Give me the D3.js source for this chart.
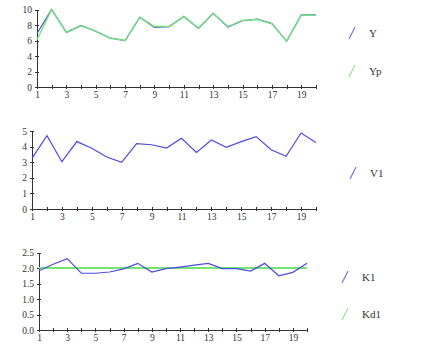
<!DOCTYPE html>
<html>
<head>
<meta charset="utf-8">
<script src="https://cdn.jsdelivr.net/npm/d3@7"></script>
<style>
  body { margin: 0; background: #fff; }
  .axis text { font-family: "Liberation Serif", serif; font-size: 9.5px; fill: #333; }
  .axis path, .axis line { stroke: #333; shape-rendering: crispEdges; }
  .legend text { font-family: "Liberation Serif", serif; font-size: 11px; fill: #333; }
</style>
</head>
<body>
<svg id="chart" width="422" height="353"></svg>
<script>
// x categories
const periods = d3.range(1, 21);

// series values
const Y   = [6.9, 10.0, 7.05, 7.95, 7.2, 6.3, 6.0, 9.0, 7.7, 7.8, 9.1, 7.55, 9.5, 7.75, 8.55, 8.75, 8.2, 5.9, 9.3, 9.3];
const Yp  = [6.1, 10.0, 7.05, 7.9, 7.2, 6.3, 6.0, 9.0, 7.8, 7.8, 9.1, 7.6, 9.5, 7.8, 8.6, 8.7, 8.15, 5.9, 9.3, 9.25];
const V1  = [3.25, 4.7, 3.03, 4.32, 3.89, 3.33, 2.99, 4.19, 4.12, 3.91, 4.53, 3.63, 4.42, 3.95, 4.32, 4.64, 3.8, 3.38, 4.87, 4.27];
const K1  = [1.91, 2.12, 2.30, 1.83, 1.83, 1.87, 1.97, 2.15, 1.87, 1.98, 2.03, 2.09, 2.15, 1.98, 1.98, 1.90, 2.15, 1.75, 1.86, 2.15];
const Kd1 = [2.0, 2.0, 2.0, 2.0, 2.0, 2.0, 2.0, 2.0, 2.0, 2.0, 2.0, 2.0, 2.0, 2.0, 2.0, 2.0, 2.0, 2.0, 2.0, 2.0];

// tick labels
const yTicks1 = [0, 2, 4, 6, 8, 10];
const yTicks2 = [0, 1, 2, 3, 4, 5];
const yTicks3 = [0, 0.5, 1.0, 1.5, 2.0, 2.5];

const blue = "#4b4be6";
const green = "#74e474";

const svg = d3.select("#chart");

const panels = [
  { x0: 37, x1: 316, yTop: 9.5, yBot: 87, max: 10, ticks: yTicks1, fmt: d3.format("d"),
    series: [{ name: "Y", values: Y, color: blue, w: 1.2 }, { name: "Yp", values: Yp, color: green, w: 1.4 }],
    legend: [{ y: 33 }, { y: 71 }], lx: 349 },
  { x0: 32, x1: 316, yTop: 131, yBot: 209, max: 5, ticks: yTicks2, fmt: d3.format("d"),
    series: [{ name: "V1", values: V1, color: blue, w: 1.2 }],
    legend: [{ y: 173 }], lx: 350 },
  { x0: 39, x1: 307, yTop: 252.5, yBot: 330, max: 2.5, ticks: yTicks3, fmt: d3.format(".1f"),
    series: [{ name: "Kd1", values: Kd1, color: green, w: 2 }, { name: "K1", values: K1, color: blue, w: 1.2 }],
    legend: [{ y: 277 }, { y: 314 }], lx: 342, legendOrder: ["K1", "Kd1"] }
];

panels.forEach(p => {
  const x = d3.scaleLinear().domain([1, 20]).range([p.x0, p.x1]);
  const y = d3.scaleLinear().domain([0, p.max]).range([p.yBot, p.yTop]);

  const xAxis = d3.axisBottom(x)
    .tickValues(periods)
    .tickSize(2)
    .tickSizeOuter(0)
    .tickPadding(2)
    .tickFormat(d => d % 2 === 1 ? d : "");

  const yAxis = d3.axisLeft(y)
    .tickValues(p.ticks)
    .tickSize(2)
    .tickSizeOuter(0)
    .tickPadding(3)
    .tickFormat(p.fmt);

  // ticks cross the axis line
  svg.append("g")
    .attr("class", "axis")
    .attr("transform", `translate(0,${p.yBot})`)
    .call(xAxis)
    .call(g => g.selectAll(".tick line").attr("y1", -2).attr("y2", 2));

  svg.append("g")
    .attr("class", "axis")
    .attr("transform", `translate(${p.x0},0)`)
    .call(yAxis)
    .call(g => g.selectAll(".tick line").attr("x1", 2).attr("x2", -2));

  const line = d3.line()
    .x((d, i) => x(periods[i]))
    .y(d => y(d));

  p.series.forEach(s => {
    svg.append("path")
      .datum(s.values)
      .attr("fill", "none")
      .attr("stroke", s.color)
      .attr("stroke-width", s.w)
      .attr("d", line);
  });

  // legend: slanted line sample + label
  const names = p.legendOrder || p.series.map(s => s.name);
  names.forEach((name, i) => {
    const s = p.series.find(d => d.name === name);
    const ly = p.legend[i].y;
    const g = svg.append("g").attr("class", "legend");
    g.append("line")
      .attr("x1", p.lx).attr("y1", ly + 6)
      .attr("x2", p.lx + 6).attr("y2", ly - 6)
      .attr("stroke", s.color)
      .attr("stroke-width", 1);
    g.append("text")
      .attr("x", p.lx + 20)
      .attr("y", ly + 4)
      .text(name);
  });
});
</script>
</body>
</html>
